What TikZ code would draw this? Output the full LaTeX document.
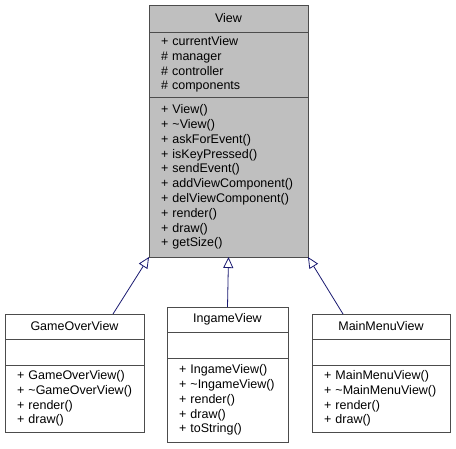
\documentclass[tikz,border=0pt]{standalone}
\usepackage{fontspec}
\setmainfont{Liberation Sans}
\usetikzlibrary{arrows.meta,positioning}
\definecolor{umlgray}{HTML}{BFBFBF}
\definecolor{edgeblue}{HTML}{191970}

\begin{document}
\begin{tikzpicture}
  [
    x=1pt,
    y=-1pt,
    font=\fontsize{12.5}{14.8}\selectfont,
    part/.style={draw=black!70, line width=1pt, fill=white, inner ysep=0pt, inner xsep=12pt, outer sep=0pt, align=left},
    title part/.style={part, inner xsep=0pt, align=center},
    base/.style={fill=umlgray},
    inherit/.style={draw=edgeblue, line width=0.8pt, -{Triangle[length=11pt, width=10pt, fill=white]}},
  ]
  \useasboundingbox (0,0) rectangle (456,448);
  \node [title part, base, text width=159pt, minimum height=27pt] (view) at (228.5,18.5) {View};
  \node [part, base, text width=135pt, minimum height=65pt, below=0pt of view] (view attr)
    {+ currentView\\\# manager\\\# controller\\\# components};
  \node [part, base, text width=135pt, minimum height=160pt, below=0pt of view attr] (view ops)
    {+ View()\\+~\textasciitilde View()\\+ askForEvent()\\+ isKeyPressed()\\+ sendEvent()\\+~addViewComponent()\\+~delViewComponent()\\+ render()\\+ draw()\\+ getSize()};

  \node [title part, text width=139pt, minimum height=25pt] (gameover) at (74.5,326.5) {GameOverView};
  \node [part, text width=115pt, minimum height=26pt, below=0pt of gameover] (gameover attr) {};
  \node [part, text width=115pt, minimum height=67pt, below=0pt of gameover attr] (gameover ops)
    {+ GameOverView()\\+~\textasciitilde GameOverView()\\+ render()\\+ draw()};

  \node [title part, text width=121pt, minimum height=25pt] (ingame) at (227.5,319.5) {IngameView};
  \node [part, text width=97pt, minimum height=26pt, below=0pt of ingame] (ingame attr) {};
  \node [part, text width=97pt, minimum height=84pt, below=0pt of ingame attr] (ingame ops)
    {+ IngameView()\\+~\textasciitilde IngameView()\\+ render()\\+ draw()\\+ toString()};

  \node [title part, text width=138pt, minimum height=25pt] (mainmenu) at (381,326.5) {MainMenuView};
  \node [part, text width=114pt, minimum height=26pt, below=0pt of mainmenu] (mainmenu attr) {};
  \node [part, text width=114pt, minimum height=67pt, below=0pt of mainmenu attr] (mainmenu ops)
    {+ MainMenuView()\\+~\textasciitilde MainMenuView()\\+ render()\\+ draw()};

  \draw [inherit] ([xshift=38.5pt]gameover.north) -- (view ops.south west);
  \draw [inherit] (ingame.north) -- (view ops.south);
  \draw [inherit] ([xshift=-38pt]mainmenu.north) -- (view ops.south east);
\end{tikzpicture}
\end{document}
